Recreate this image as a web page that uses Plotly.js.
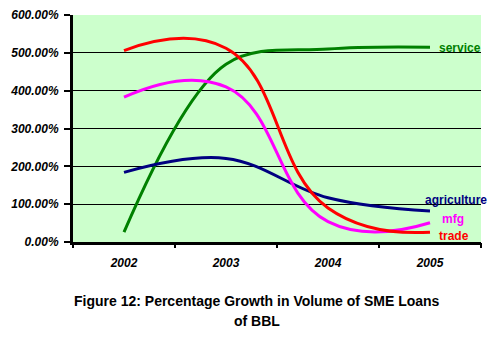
<!DOCTYPE html>
<html><head><meta charset="utf-8">
<script src="https://cdn.plot.ly/plotly-3.0.1.min.js"></script>
<style>html,body{margin:0;padding:0;background:#fff}#c{width:498px;height:343px}</style>
</head><body><div id="c"></div>
<script>
const years = ['2002','2003','2004','2005'];
const service = [26, 470, 510, 515];
const agriculture = [184, 221, 117, 82];
const mfg = [383, 410, 54, 51];
const trade = [506, 512, 90, 26];
const seriesNames = ['service','agriculture','mfg','trade'];
const seriesColors = ['#008000','#000080','#FF00FF','#FF0000'];
const yTicks = [0,100,200,300,400,500,600];
const yTickText = yTicks.map(v => v.toFixed(2) + '%');
const titleLines = ['Figure 12: Percentage Growth in Volume of SME Loans', 'of BBL'];
const allData = [service, agriculture, mfg, trade];
const smooth = [1.0, 1.1, 1.3, 1.3];
const labelXShift = [30, 26, 23, 24];
const labelYShift = [-1, 11, 4, -4];
const FONT = 'Liberation Sans, Arial, sans-serif';

const traces = allData.map((d,i) => ({
  x: [0,1,2,3], y: d, type: 'scatter', mode: 'lines', name: seriesNames[i],
  line: {color: seriesColors[i], width: 3, shape: 'spline', smoothing: smooth[i]},
  hoverinfo: 'skip'
}));

const annotations = allData.map((d,i) => ({
  x: 3, y: d[3], xref: 'x', yref: 'y', text: '<b>' + seriesNames[i] + '</b>',
  showarrow: false, xanchor: 'center', yanchor: 'middle',
  xshift: labelXShift[i], yshift: labelYShift[i],
  font: {family: FONT, size: 12, color: seriesColors[i]}
}));
titleLines.forEach((t, k) => annotations.push({
  xref: 'paper', yref: 'paper', x: (257 - 73) / 408, y: -(301 + 20 * k - 242) / 227,
  yanchor: 'middle', xanchor: 'center', showarrow: false,
  text: '<b>' + t + '</b>',
  font: {family: FONT, size: 14, color: '#000'}
}));

const layout = {
  width: 498, height: 343,
  margin: {l: 73, r: 17, t: 15, b: 101},
  paper_bgcolor: '#fff', plot_bgcolor: '#CCFFCC',
  showlegend: false,
  font: {family: FONT, color: '#000'},
  xaxis: {
    range: [-0.5, 3.5], tickvals: [0,1,2,3], ticktext: years,
    ticks: '', showline: true, linecolor: '#000', linewidth: 3,
    showgrid: false, zeroline: false, ticklabelstandoff: 8,
    tickfont: {family: FONT, size: 12, color: '#000', weight: 'bold', style: 'italic'},
    fixedrange: true
  },
  xaxis2: {
    overlaying: 'x', anchor: 'y', range: [-0.5, 3.5], tickvals: [-0.5, 0.5, 1.5, 2.5, 3.5],
    showticklabels: false, ticks: 'outside', ticklen: 5, tickwidth: 2, tickcolor: '#000',
    showline: false, showgrid: false, zeroline: false, fixedrange: true
  },
  yaxis: {
    range: [0, 600], tickvals: yTicks, ticktext: yTickText,
    ticks: 'outside', ticklen: 6, tickwidth: 2, tickcolor: '#000',
    showline: true, linecolor: '#000', linewidth: 3, ticklabelstandoff: 3,
    showgrid: true, gridcolor: '#000', gridwidth: 1, zeroline: false,
    tickfont: {family: FONT, size: 12, color: '#000', weight: 'bold', style: 'italic'},
    fixedrange: true
  },
  annotations: annotations
};
traces.push({x: [0], y: [0], xaxis: 'x2', type: 'scatter', mode: 'markers', marker: {opacity: 0}, hoverinfo: 'skip', showlegend: false});
Plotly.newPlot('c', traces, layout, {staticPlot: true, displayModeBar: false});
</script></body></html>
